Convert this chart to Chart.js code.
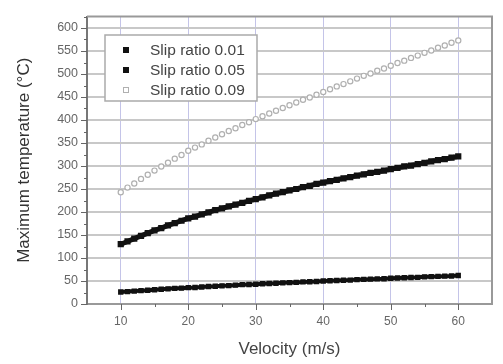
<!DOCTYPE html>
<html>
<head>
<meta charset="utf-8">
<script src="https://cdn.jsdelivr.net/npm/chart.js@4.4.1/dist/chart.umd.min.js"></script>
<style>
  html, body { margin: 0; padding: 0; background: #fff; }
  #wrap { width: 503px; height: 364px; position: relative; }
</style>
</head>
<body>
<div id="wrap"><canvas id="c" width="503" height="364"></canvas></div>
<script>
var velocity = [10,11,12,13,14,15,16,17,18,19,20,21,22,23,24,25,26,27,28,29,30,
  31,32,33,34,35,36,37,38,39,40,41,42,43,44,45,46,47,48,49,50,
  51,52,53,54,55,56,57,58,59,60];

var slip001 = [26,27,28,29,30,31,32,33,34,34.5,35.5,36,37,38,38.5,39.5,40,41,42,42.5,43,
  44,44.5,45,46,46.5,47,48,48.5,49,50,50.5,51,51.5,52,53,53.5,54,54.5,55,56,
  56.5,57,57.5,58,59,59.5,60,60.5,61,62];

var slip005 = [130,136,142,148,154,160,165,171,176,181,186,190,195,199,204,208,212,216,220,224,228,
  232,236,240,243,247,250,254,257,261,264,267,270,273,276,279,282,285,287,290,293,
  296,299,301,304,307,310,313,315,318,321];

var slip009 = [243,253,262,272,281,290,299,307,316,324,333,340,347,355,362,369,376,382,389,395,402,
  408,414,420,426,432,438,444,449,455,461,467,473,478,484,490,496,501,507,512,518,
  524,529,535,540,546,551,557,562,568,573];

var seriesNames = ['Slip ratio 0.01', 'Slip ratio 0.05', 'Slip ratio 0.09'];
var xTitle = 'Velocity (m/s)';
var yTitle = 'Maximum temperature (\u00B0C)';

function pts(vals) {
  return velocity.map(function (v, i) { return {x: v, y: vals[i]}; });
}

// tick marks outside the frame, long at labels, short between
var tickMarks = {
  id: 'tickMarks',
  afterDraw: function (chart) {
    var g = chart.ctx, a = chart.chartArea;
    var xs = chart.scales.x, ys = chart.scales.y;
    g.save();
    g.strokeStyle = '#666';
    g.lineWidth = 1;
    ys.ticks.forEach(function (t) {
      var p = Math.round(ys.getPixelForValue(t.value)) + 0.5;
      var len = t.value % 50 === 0 ? 6 : 3;
      g.beginPath(); g.moveTo(a.left - len, p); g.lineTo(a.left, p); g.stroke();
    });
    xs.ticks.forEach(function (t) {
      if (t.value <= xs.min || t.value >= xs.max) return;
      var p = Math.round(xs.getPixelForValue(t.value)) + 0.5;
      var len = t.value % 10 === 0 ? 6 : 3;
      g.beginPath(); g.moveTo(p, a.bottom); g.lineTo(p, a.bottom + len); g.stroke();
    });
    g.restore();
  }
};

// boxed legend inside the plot, upper left
var boxLegend = {
  id: 'boxLegend',
  afterDatasetsDraw: function (chart) {
    var g = chart.ctx;
    var x0 = 105, y0 = 35, w = 152, h = 66;
    g.save();
    g.fillStyle = '#fff';
    g.fillRect(x0, y0, w, h);
    g.strokeStyle = '#aaa';
    g.lineWidth = 1.5;
    g.strokeRect(x0, y0, w, h);
    g.font = '15.5px "Liberation Sans", Arial, sans-serif';
    g.textBaseline = 'middle';
    chart.data.datasets.forEach(function (ds, i) {
      var y = 50 + i * 20;
      if (ds.pointStyle === 'circle') {
        g.fillStyle = '#fff';
        g.strokeStyle = ds.pointBorderColor;
        g.lineWidth = 1;
        g.strokeRect(123.5, y - 2.5, 5, 5);
      } else {
        g.fillStyle = ds.pointBackgroundColor;
        g.fillRect(123, y - 3, 6, 6);
      }
      g.fillStyle = '#444';
      g.fillText(ds.label, 150, y + 1);
    });
    g.restore();
  }
};

new Chart(document.getElementById('c'), {
  type: 'scatter',
  data: {
    datasets: [
      {label: seriesNames[0], data: pts(slip001), showLine: true, borderColor: '#111', borderWidth: 4,
       pointStyle: 'rect', pointRadius: 3.8, pointBackgroundColor: '#111', pointBorderColor: '#111', pointBorderWidth: 0},
      {label: seriesNames[1], data: pts(slip005), showLine: true, borderColor: '#111', borderWidth: 5,
       pointStyle: 'rect', pointRadius: 4.4, pointBackgroundColor: '#111', pointBorderColor: '#111', pointBorderWidth: 0},
      {label: seriesNames[2], data: pts(slip009), showLine: false,
       pointStyle: 'circle', pointRadius: 2.6, pointBackgroundColor: '#fff', pointBorderColor: '#b0b0b0', pointBorderWidth: 1.2}
    ]
  },
  options: {
    responsive: false,
    animation: false,
    devicePixelRatio: 1,
    layout: {padding: {top: 10, right: 11, left: 0, bottom: 0}},
    plugins: {legend: {display: false}, tooltip: {enabled: false}},
    scales: {
      x: {
        type: 'linear', min: 5, max: 65,
        afterFit: function (s) { s.height = 60; },
        border: {display: true, color: '#999', width: 2},
        grid: {
          drawTicks: false,
          color: function (c) {
            var v = c.tick.value;
            return (v % 10 === 0) ? '#c4c4e8' : 'rgba(0,0,0,0)';
          },
          lineWidth: 1
        },
        ticks: {
          stepSize: 5, padding: 10, maxRotation: 0, autoSkip: false,
          color: '#666', font: {family: '"Liberation Sans", Arial, sans-serif', size: 12},
          callback: function (v) { return v % 10 === 0 ? v : ''; }
        },
        title: {display: true, text: xTitle, color: '#444', padding: {top: 4, bottom: 4},
          font: {family: '"Liberation Sans", Arial, sans-serif', size: 17}}
      },
      y: {
        min: 0, max: 625,
        afterFit: function (s) { s.width = 87; },
        border: {display: true, color: '#777', width: 2},
        grid: {
          drawTicks: false,
          color: function (c) {
            var v = c.tick.value;
            return (v % 50 === 0 && v > 0) ? '#c8c8c8' : 'rgba(0,0,0,0)';
          },
          lineWidth: 2
        },
        ticks: {
          stepSize: 25, includeBounds: false, padding: 9, autoSkip: false,
          color: '#666', font: {family: '"Liberation Sans", Arial, sans-serif', size: 12.5},
          callback: function (v) { return v % 50 === 0 ? v : ''; }
        },
        title: {display: true, text: yTitle, color: '#333', padding: {top: 14, bottom: 4},
          font: {family: '"Liberation Sans", Arial, sans-serif', size: 17}}
      }
    }
  },
  plugins: [tickMarks, boxLegend, {
    id: 'frame',
    afterDraw: function (chart) {
      var g = chart.ctx, a = chart.chartArea;
      g.save();
      g.strokeStyle = '#999';
      g.lineWidth = 2;
      g.beginPath();
      g.moveTo(a.left, a.top); g.lineTo(a.right, a.top); g.lineTo(a.right, a.bottom);
      g.stroke();
      g.restore();
    }
  }]
});
</script>
</body>
</html>
